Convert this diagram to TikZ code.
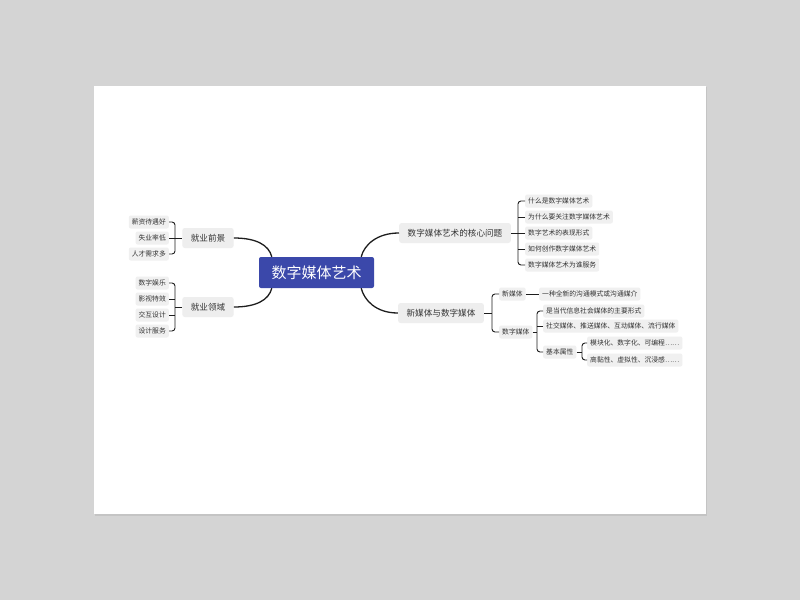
\documentclass[tikz,border=0pt]{standalone}
\usepackage{fontspec}
\setmainfont{Noto Sans CJK SC}
\usepackage{tikz}
\usetikzlibrary{calc}
\definecolor{backdrop}{RGB}{212,212,212}
\definecolor{pageshade}{RGB}{196,196,196}
\definecolor{rootblue}{RGB}{59,72,170}
\definecolor{topicgray}{RGB}{238,238,238}
\definecolor{leafgray}{RGB}{240,240,240}
\definecolor{inkgray}{RGB}{51,51,51}
\definecolor{linedark}{RGB}{30,30,30}

\begin{document}
\begin{tikzpicture}[x=1pt,y=-1pt,
    root/.style={fill=rootblue,text=white,rounded corners=2pt,minimum width=115pt,minimum height=31pt,font=\fontsize{15}{15}\selectfont},
    topic/.style={fill=topicgray,text=inkgray,rounded corners=2.5pt,inner xsep=8.5pt,minimum height=20pt,font=\fontsize{8.6}{9}\selectfont},
    leaf/.style={fill=leafgray,text=inkgray,rounded corners=2pt,inner xsep=3pt,inner ysep=0pt,minimum height=13pt,font=\fontsize{6.8}{7}\selectfont},
    branch/.style={linedark,line width=1.3pt},
    link/.style={linedark,line width=0.9pt,rounded corners=3pt}]

    % Backdrop and page
    \useasboundingbox (0,0) rectangle (800,600);
    \fill[backdrop] (0,0) rectangle (800,600);
    \fill[pageshade] (95,87) rectangle (707,516);
    \fill[white] (94,86) rectangle (706,514);

    % Root and main topics
    \node[root] (root) at (316.5,272.5) {数字媒体艺术};
    \node[topic] (prosp) at (208,238) {就业前景};
    \node[topic] (field) at (208,307) {就业领域};
    \node[topic] (core) at (455,233) {数字媒体艺术的核心问题};
    \node[topic] (media) at (441,313) {新媒体与数字媒体};

    % Left leaves
    \node[leaf,anchor=east] (pay) at (169,222) {薪资待遇好};
    \node[leaf,anchor=east] (jobless) at (169,238) {失业率低};
    \node[leaf,anchor=east] (demand) at (169,254) {人才需求多};
    \node[leaf,anchor=east] (ent) at (169,283) {数字娱乐};
    \node[leaf,anchor=east] (vfx) at (169,299) {影视特效};
    \node[leaf,anchor=east] (inter) at (169,315) {交互设计};
    \node[leaf,anchor=east] (dserv) at (169,331) {设计服务};

    % Right leaves
    \node[leaf,anchor=west] (what) at (525,201) {什么是数字媒体艺术};
    \node[leaf,anchor=west] (why) at (525,217) {为什么要关注数字媒体艺术};
    \node[leaf,anchor=west] (form) at (525,233) {数字艺术的表现形式};
    \node[leaf,anchor=west] (how) at (525,249) {如何创作数字媒体艺术};
    \node[leaf,anchor=west] (whom) at (525,265) {数字媒体艺术为谁服务};

    \node[leaf,anchor=west] (newm) at (499,294) {新媒体};
    \node[leaf,anchor=west] (digm) at (499,332) {数字媒体};
    \node[leaf,anchor=west] (newdef) at (539,294) {一种全新的沟通模式或沟通媒介};
    \node[leaf,anchor=west] (mainform) at (543,311) {是当代信息社会媒体的主要形式};
    \node[leaf,anchor=west] (kinds) at (543,326) {社交媒体、推送媒体、互动媒体、流行媒体};
    \node[leaf,anchor=west] (attr) at (543,352) {基本属性};
    \node[leaf,anchor=west] (attra) at (587,343) {模块化、数字化、可编程……};
    \node[leaf,anchor=west] (attrb) at (587,360) {高黏性、虚拟性、沉浸感……};

    % Branches from the root
    \draw[branch] (prosp.east) .. controls +(22,0) and +(-3,-12) .. ($(root.north west)+(13,0)$);
    \draw[branch] (field.east) .. controls +(22,0) and +(-3,12) .. ($(root.south west)+(13,0)$);
    \draw[branch] (core.west) .. controls +(-22,0) and +(3,-12) .. ($(root.north east)+(-13,0)$);
    \draw[branch] (media.west) .. controls +(-22,0) and +(3,12) .. ($(root.south east)+(-13,0)$);

    % Left brackets
    \draw[link] (pay.east) -- ++(6,0) |- (demand.east);
    \draw[link] (jobless.east) -- (prosp.west);
    \draw[link] (ent.east) -- ++(6,0) |- (dserv.east);
    \draw[link] (vfx.east) -- ++(6,0);
    \draw[link] (inter.east) -- ++(6,0);
    \draw[link] (field.west) -- ($(field.west -| ent.east)+(6,0)$);

    % Right brackets
    \draw[link] (what.west) -- ++(-7,0) |- (whom.west);
    \draw[link] (why.west) -- ++(-7,0);
    \draw[link] (how.west) -- ++(-7,0);
    \draw[link] (core.east) -- (form.west);

    \draw[link] (newm.west) -- ++(-7,0) |- (digm.west);
    \draw[link] (media.east) -- ($(media.east -| newm.west)+(-7,0)$);
    \draw[link] (newm.east) -- (newdef.west);

    \draw[link] (mainform.west) -- ++(-6,0) |- (attr.west);
    \draw[link] (kinds.west) -- ++(-6,0);
    \draw[link] (digm.east) -- ($(digm.east -| mainform.west)+(-6,0)$);

    \draw[link] (attra.west) -- ++(-5,0) |- (attrb.west);
    \draw[link] (attr.east) -- ($(attr.east -| attra.west)+(-5,0)$);

\end{tikzpicture}
\end{document}
